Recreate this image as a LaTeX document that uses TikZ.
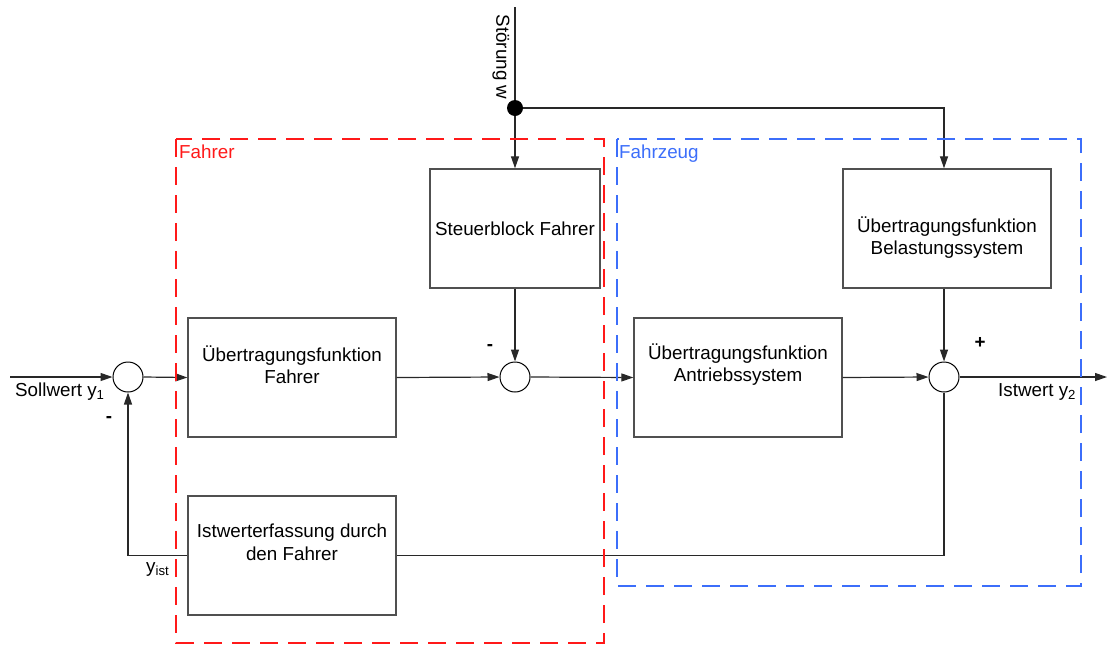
\documentclass[tikz,border=0pt]{standalone}
\usepackage{fontspec}
\setmainfont{Liberation Sans}
\usetikzlibrary{arrows.meta}
\definecolor{fred}{RGB}{255,25,25}
\definecolor{fblue}{RGB}{60,110,250}
\definecolor{boxgray}{RGB}{80,80,80}
\definecolor{linegray}{RGB}{40,40,40}
\begin{document}
\begin{tikzpicture}[x=1pt,y=-1pt,
  font=\fontsize{18.8}{22.5}\selectfont,
  box/.style={draw=boxgray, line width=1.3pt, fill=white, minimum width=208pt, minimum height=119pt, inner sep=0pt},
  txt/.style={align=center, inner sep=0pt},
  sumc/.style={draw=black, circle, line width=1pt, minimum size=30pt, inner sep=0pt},
  conn/.style={line width=1.2pt, draw=linegray},
  arr/.style={conn, -{Triangle[length=12pt,width=8pt]}},
  frame/.style={dash pattern=on 18pt off 10pt, line width=2.6pt}]
\useasboundingbox (0,0) rectangle (1107,646);

% blocks
\node[box, minimum width=170pt] (st) at (515,228.5) {};
\node[txt] (stt) at (st.center) {Steuerblock Fahrer};
\node[box] (uf) at (292,377.5) {};
\node[txt] (uft) at ([yshift=13pt]uf.center) {Übertragungsfunktion\\Fahrer};
\node[box] (ia) at (292,555.5) {};
\node[txt] (iat) at ([yshift=13pt]ia.center) {Istwerterfassung durch\\den Fahrer};
\node[box] (ua) at (738,377.5) {};
\node[txt] (uat) at ([yshift=13pt]ua.center) {Übertragungsfunktion\\Antriebssystem};
\node[box] (ub) at (947,228.5) {};
\node[txt] (ubt) at ([yshift=-9pt]ub.center) {Übertragungsfunktion\\Belastungssystem};

% summing points
\node[sumc] (s1) at (128,377) {};
\node[sumc] (s2) at (515,377) {};
\node[sumc] (s3) at (944,377) {};
\node[circle, fill=black, minimum size=16pt, inner sep=0pt] (dot) at (515,108) {};

\coordinate (in) at (10,377);
\coordinate (out) at (1107,377);
\coordinate (top) at (515,7);

% connectors
\draw[arr] (in) -- (s1.west);
\draw[arr] (s1.east) -- (uf.west);
\draw[arr] (uf.east) -- (s2.west);
\draw[arr] (st.south) -- (s2.north);
\draw[arr] (s2.east) -- (ua.west);
\draw[arr] (ua.east) -- (s3.west);
\draw[arr] (s3.east) -- (out);
\draw[arr] (ub.south -| s3) -- (s3.north);
\draw[conn] (s3.south) -- (s3 |- ia.east) -- (ia.east);
\draw[arr] (ia.west) -| (s1.south);
\draw[conn] (top) -- (dot);
\draw[arr] (dot) -- (st.north);
\draw[arr] (dot.east) -| (ub.north -| s3);

% labels
\node[anchor=base west, inner sep=0pt] (sw) at (15,396) {Sollwert y\textsubscript{1}};
\node[anchor=base west, inner sep=0pt] (iw) at (998,396) {Istwert y\textsubscript{2}};
\node[anchor=base west, inner sep=0pt] (yi) at (146,572) {y\textsubscript{ist}};
\node[inner sep=0pt] (m1) at (109,419) {\textbf{-}};
\node[inner sep=0pt] (m2) at (490,347) {\textbf{-}};
\node[inner sep=0pt] (p3) at (980,343) {\textbf{+}};
\node[rotate=-90, inner sep=0pt] (sw2) at (501,57) {Störung w};

% frames
\draw[frame, fred] (176,139) rectangle (604,643);
\draw[frame, fblue] (617,139) rectangle (1081,586);
\node[anchor=base west, inner sep=0pt, text=fred] (lf) at (179,158) {Fahrer};
\node[anchor=base west, inner sep=0pt, text=fblue] (lz) at (619,158) {Fahrzeug};
\end{tikzpicture}
\end{document}
